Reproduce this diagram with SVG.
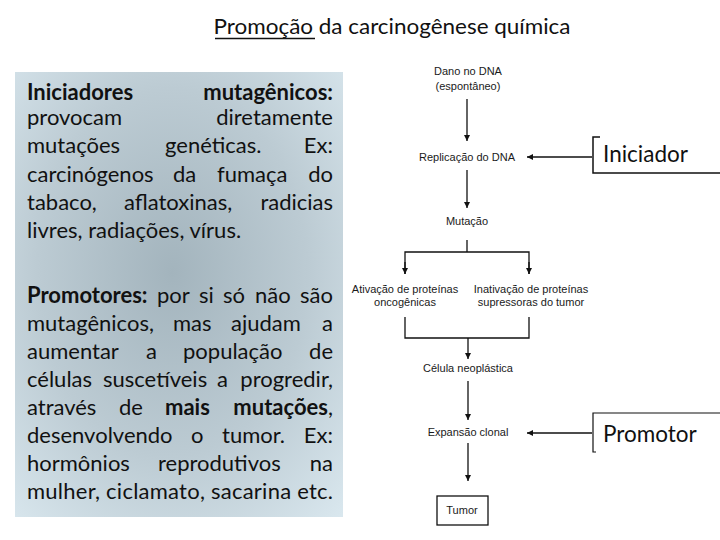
<svg xmlns="http://www.w3.org/2000/svg" width="720" height="540" viewBox="0 0 720 540">
<style>
.t{font-family:Lato,"Liberation Sans",sans-serif;font-size:22px;fill:#111}
.b{font-weight:bold}
.e{text-anchor:end}
.f{font-family:"Liberation Sans",Arial,sans-serif;font-size:11px;fill:#1a1a1a;text-anchor:middle}
.big{font-family:Lato,"Liberation Sans",sans-serif;font-size:22.5px;fill:#111}
.ln{stroke:#111;stroke-width:1.3;fill:none}
.ar{stroke:#111;stroke-width:1.3;fill:none;marker-end:url(#ah)}
</style>
<defs>
<radialGradient id="bg" cx="0.48" cy="0.45" r="0.75">
<stop offset="0" stop-color="#a3b4bd"/>
<stop offset="0.55" stop-color="#bccbd3"/>
<stop offset="1" stop-color="#d9e7ee"/>
</radialGradient>
<marker id="ah" viewBox="0 0 10 10" refX="10" refY="5" markerWidth="6" markerHeight="6" markerUnits="userSpaceOnUse" orient="auto">
<path d="M0,0 L10,5 L0,10 z" fill="#111"/>
</marker>
</defs>
<rect width="720" height="540" fill="#fff"/>
<g id="title">
<text x="392" y="34" class="t" style="font-size:21px" text-anchor="middle" textLength="357" lengthAdjust="spacingAndGlyphs">Promoção da carcinogênese química</text>
<line x1="215" y1="38.5" x2="315" y2="38.5" stroke="#111" stroke-width="1.5"/>
</g>
<g id="panel">
<rect x="15" y="72" width="328" height="445" fill="url(#bg)"/>
<text class="t b" x="27" y="100">Iniciadores</text>
<text class="t b e" x="333" y="100">mutagênicos:</text>
<text class="t" x="27" y="125">provocam</text>
<text class="t e" x="333" y="125">diretamente</text>
<text class="t" x="27" y="153">mutações</text>
<text class="t" x="165" y="153">genéticas.</text>
<text class="t e" x="333" y="153">Ex:</text>
<text class="t" x="27" y="182">carcinógenos</text>
<text class="t" x="173" y="182">da</text>
<text class="t" x="217" y="182">fumaça</text>
<text class="t e" x="333" y="182">do</text>
<text class="t" x="27" y="210">tabaco,</text>
<text class="t" x="124" y="210">aflatoxinas,</text>
<text class="t e" x="333" y="210">radicias</text>
<text class="t" x="27" y="238">livres, radiações, vírus.</text>

<text class="t b" x="27" y="303">Promotores:</text>
<text class="t" x="157" y="303">por</text>
<text class="t" x="199" y="303">si</text>
<text class="t" x="223" y="303">só</text>
<text class="t" x="255" y="303">não</text>
<text class="t e" x="333" y="303">são</text>
<text class="t" x="27" y="331">mutagênicos,</text>
<text class="t" x="173" y="331">mas</text>
<text class="t" x="231" y="331">ajudam</text>
<text class="t e" x="333" y="331">a</text>
<text class="t" x="27" y="359">aumentar</text>
<text class="t" x="146" y="359">a</text>
<text class="t" x="183" y="359">população</text>
<text class="t e" x="333" y="359">de</text>
<text class="t" x="27" y="387">células</text>
<text class="t" x="103" y="387">suscetíveis</text>
<text class="t" x="217" y="387">a</text>
<text class="t e" x="333" y="387">progredir,</text>
<text class="t" x="27" y="415">através</text>
<text class="t" x="119" y="415">de</text>
<text class="t b" x="165" y="415">mais</text>
<text class="t e" x="333" y="415"><tspan class="b">mutações</tspan>,</text>
<text class="t" x="27" y="443">desenvolvendo</text>
<text class="t" x="191" y="443">o</text>
<text class="t" x="222" y="443">tumor.</text>
<text class="t e" x="333" y="443">Ex:</text>
<text class="t" x="27" y="471">hormônios</text>
<text class="t" x="158" y="471">reprodutivos</text>
<text class="t e" x="333" y="471">na</text>
<text class="t" x="27" y="499" textLength="306" lengthAdjust="spacing">mulher, ciclamato, sacarina etc.</text>
</g>
<g id="connectors">
<line class="ar" x1="467" y1="99" x2="467" y2="141"/>
<line class="ar" x1="592" y1="157" x2="527" y2="157"/>
<line class="ar" x1="467" y1="170" x2="467" y2="208"/>
<polyline class="ln" points="467,240 467,252"/>
<polyline class="ln" points="405,274 405,252 529,252 529,274"/>
<line class="ar" x1="405" y1="262" x2="405" y2="274"/>
<line class="ar" x1="529" y1="262" x2="529" y2="274"/>
<polyline class="ln" points="405,317 405,338 529,338 529,317"/>
<line class="ar" x1="468" y1="338" x2="468" y2="359"/>
<line class="ar" x1="468" y1="381" x2="468" y2="420"/>
<line class="ar" x1="592" y1="433" x2="527" y2="433"/>
<line class="ar" x1="468" y1="443" x2="468" y2="481"/>
</g>
<g id="n-dano"><text class="f" x="468" y="75">Dano no DNA</text><text class="f" x="468" y="90">(espontâneo)</text></g>
<g id="n-replicacao"><text class="f" x="467" y="161">Replicação do DNA</text></g>
<g id="n-mutacao"><text class="f" x="467" y="225">Mutação</text></g>
<g id="n-ativacao"><text class="f" x="405" y="293">Ativação de proteínas</text><text class="f" x="405" y="306">oncogênicas</text></g>
<g id="n-inativacao"><text class="f" x="531" y="293">Inativação de proteínas</text><text class="f" x="531" y="306">supressoras do tumor</text></g>
<g id="n-celula"><text class="f" x="468" y="372">Célula neoplástica</text></g>
<g id="n-expansao"><text class="f" x="468" y="436">Expansão clonal</text></g>
<g id="n-tumor"><rect x="437" y="496" width="51" height="29" fill="#fff" stroke="#111" stroke-width="1.3"/><text class="f" x="462" y="514">Tumor</text></g>
<g id="n-iniciador">
<polyline class="ln" points="600,137 593,137 593,173 720,173" style="stroke-width:1.5"/>
<text class="big" x="603" y="162">Iniciador</text>
</g>
<g id="n-promotor">
<polyline class="ln" points="596,452 593,452 593,413 720,413" style="stroke-width:1.2"/>
<text class="big" x="603" y="442">Promotor</text>
</g>
</svg>
